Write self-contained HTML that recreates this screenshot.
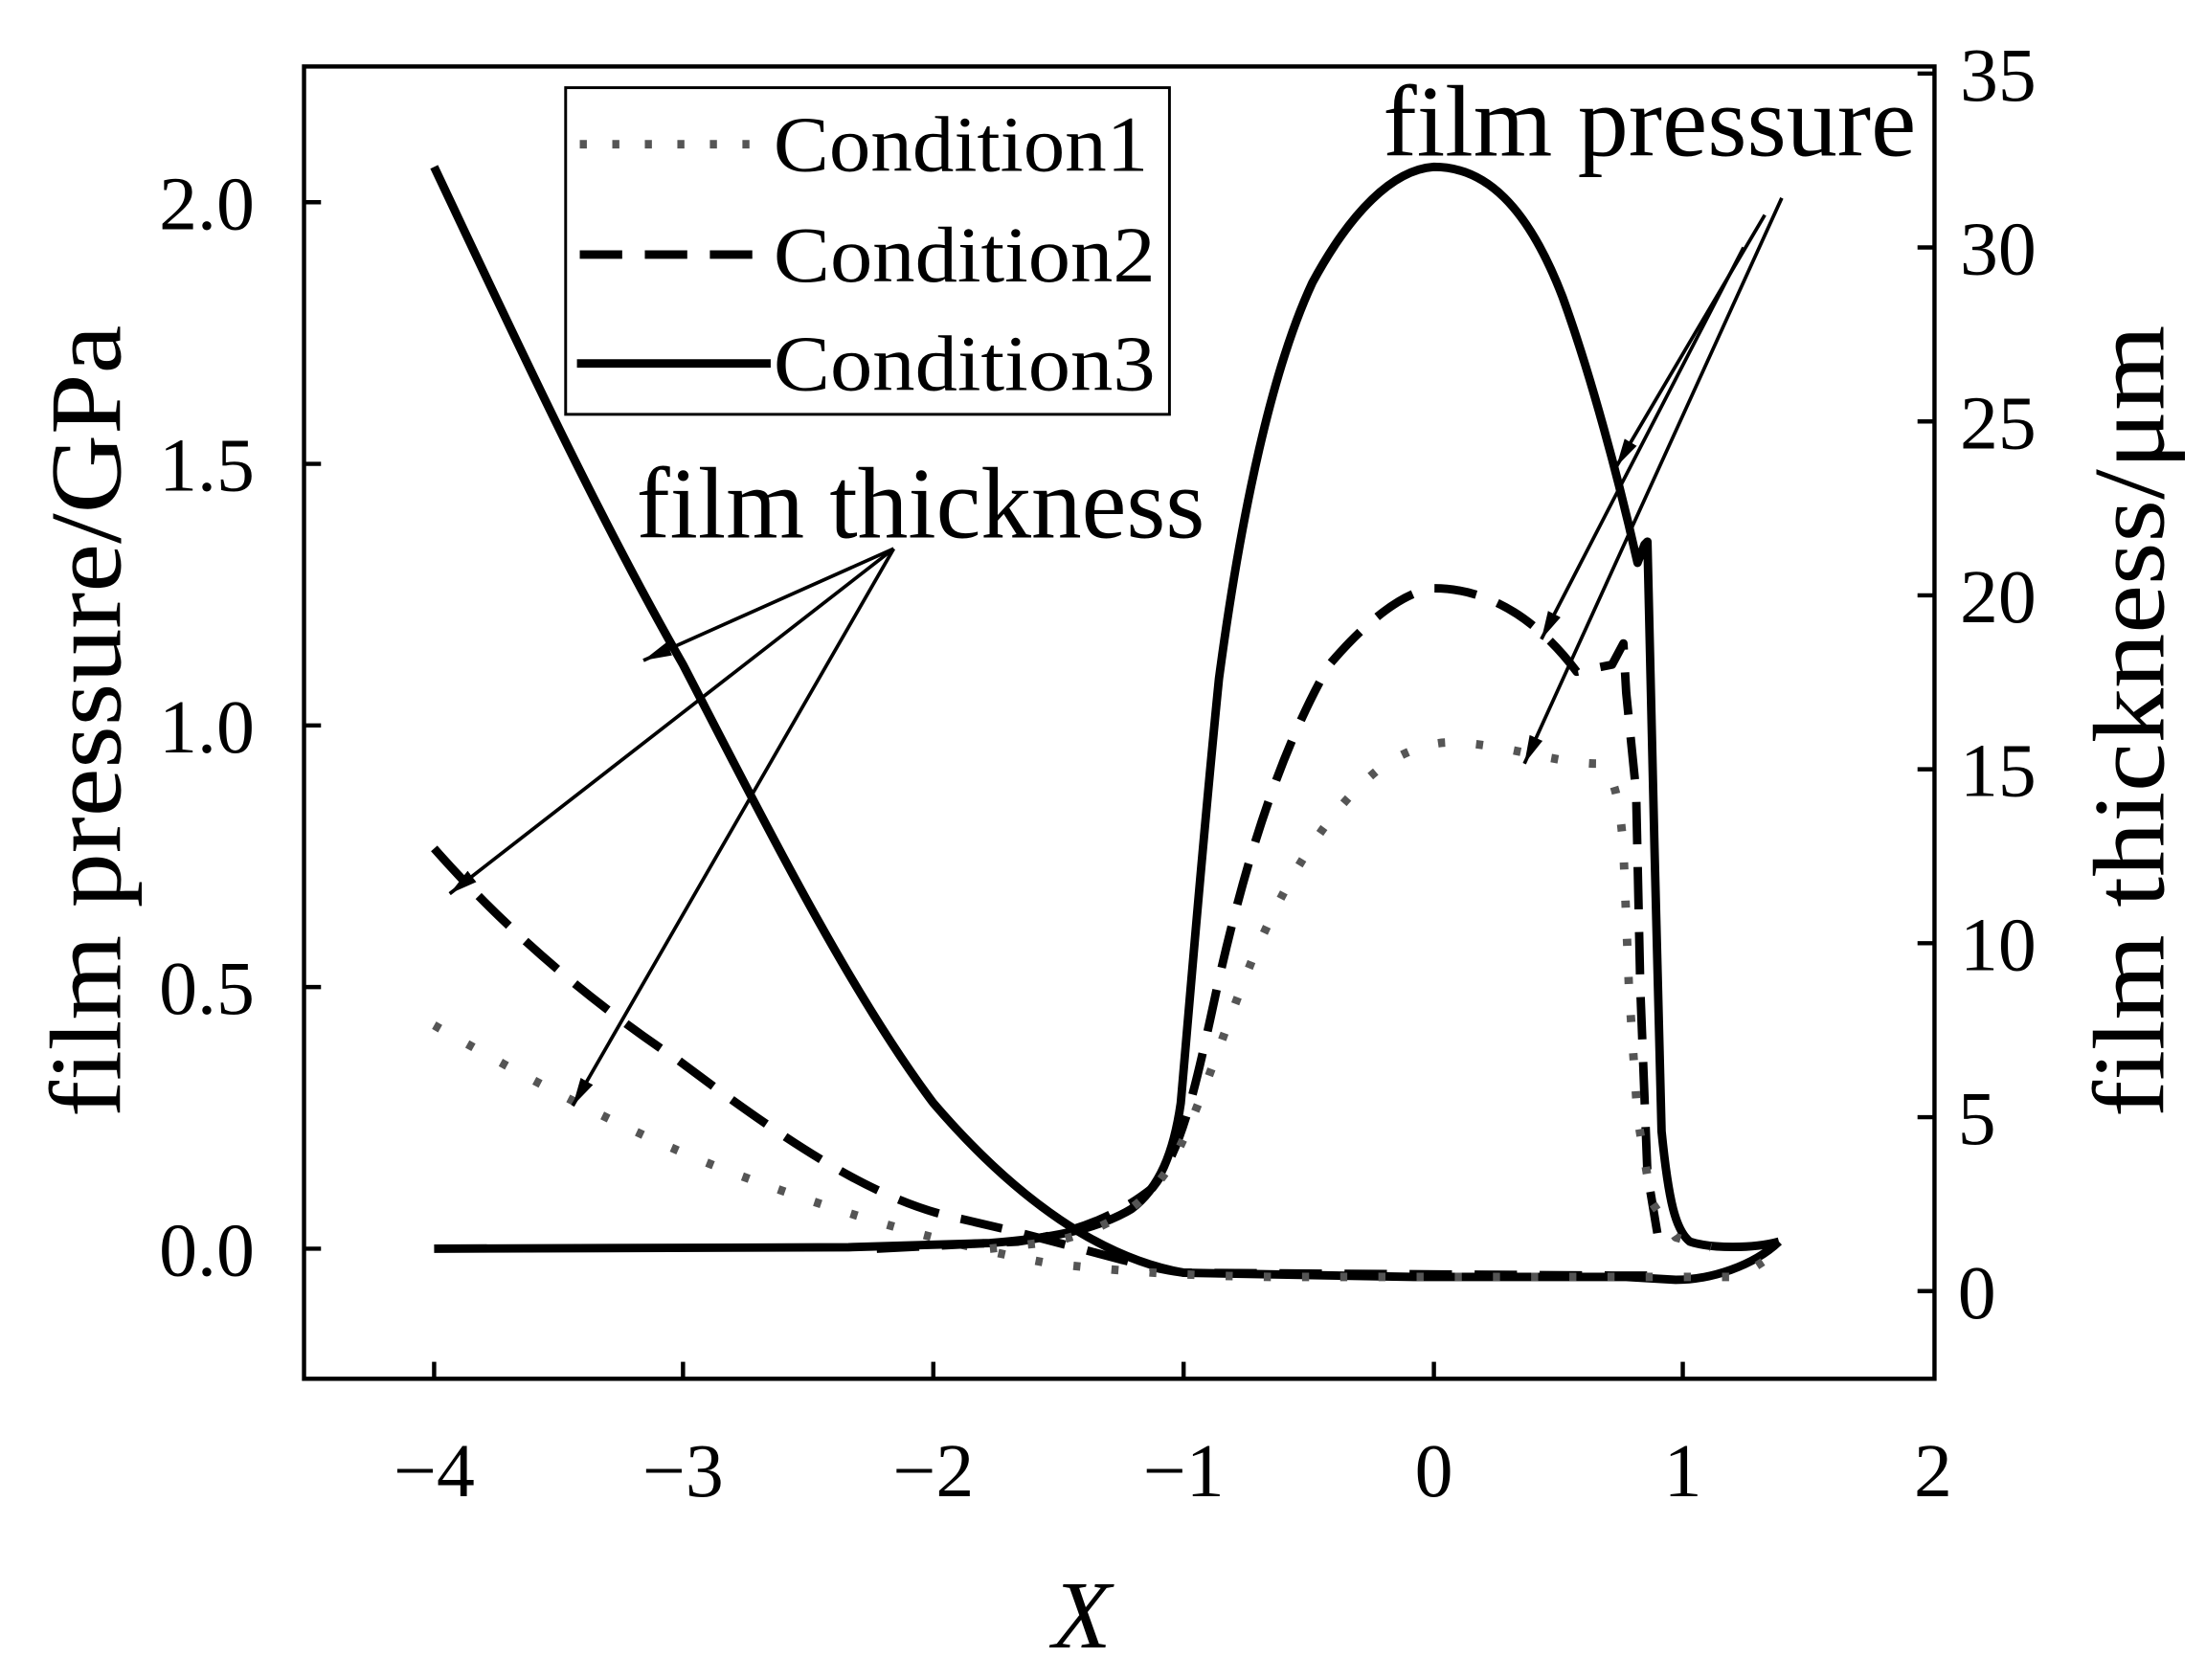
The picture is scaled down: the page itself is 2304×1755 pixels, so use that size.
<!DOCTYPE html>
<html><head><meta charset="utf-8"><style>
html,body{margin:0;padding:0;background:#fff;}
svg{display:block;}
text{font-family:"Liberation Serif",serif;fill:#000;}
</style></head><body>
<svg width="2304" height="1755" viewBox="0 0 1560 1188" preserveAspectRatio="none" xmlns="http://www.w3.org/2000/svg">
<defs>
<marker id="ah2" viewBox="0 0 20 10" refX="20" refY="5" markerWidth="20" markerHeight="10" orient="auto" markerUnits="userSpaceOnUse"><path d="M0,0 L20,5 L0,10 z" fill="#000"/></marker>
<clipPath id="c"><rect x="215" y="47" width="1153" height="928"/></clipPath>
</defs>
<rect x="215" y="47" width="1153" height="928" fill="none" stroke="#000" stroke-width="3"/>
<g stroke="#000" stroke-width="3">
<line x1="307" y1="975" x2="307" y2="963"/><line x1="483" y1="975" x2="483" y2="963"/><line x1="660" y1="975" x2="660" y2="963"/><line x1="837" y1="975" x2="837" y2="963"/><line x1="1014" y1="975" x2="1014" y2="963"/><line x1="1190" y1="975" x2="1190" y2="963"/>
<line x1="215" y1="883" x2="227" y2="883"/><line x1="215" y1="698" x2="227" y2="698"/><line x1="215" y1="513" x2="227" y2="513"/><line x1="215" y1="328" x2="227" y2="328"/><line x1="215" y1="143" x2="227" y2="143"/>
<line x1="1368" y1="913" x2="1356" y2="913"/><line x1="1368" y1="790" x2="1356" y2="790"/><line x1="1368" y1="667" x2="1356" y2="667"/><line x1="1368" y1="544" x2="1356" y2="544"/><line x1="1368" y1="421" x2="1356" y2="421"/><line x1="1368" y1="298" x2="1356" y2="298"/><line x1="1368" y1="175" x2="1356" y2="175"/><line x1="1368" y1="52" x2="1356" y2="52"/>
</g>
<g font-size="54" text-anchor="middle">
<text x="307" y="1058">−4</text><text x="483" y="1058">−3</text><text x="660" y="1058">−2</text><text x="837" y="1058">−1</text><text x="1014" y="1058">0</text><text x="1190" y="1058">1</text><text x="1367" y="1058">2</text>
</g>
<g font-size="54" text-anchor="end">
<text x="180" y="902">0.0</text><text x="180" y="717">0.5</text><text x="180" y="532">1.0</text><text x="180" y="347">1.5</text><text x="180" y="162">2.0</text>
</g>
<g font-size="54" text-anchor="middle">
<text x="1398" y="932">0</text><text x="1398" y="809">5</text><text x="1413" y="686">10</text><text x="1413" y="563">15</text><text x="1413" y="440">20</text><text x="1413" y="317">25</text><text x="1413" y="194">30</text><text x="1413" y="71">35</text>
</g>
<text x="765" y="1165" font-size="68" font-style="italic" text-anchor="middle">X</text>
<text transform="translate(85,510) rotate(-90)" font-size="72" text-anchor="middle" textLength="560" lengthAdjust="spacingAndGlyphs">film pressure/GPa</text>
<text transform="translate(1530,510) rotate(-90)" font-size="72" text-anchor="middle" textLength="560" lengthAdjust="spacingAndGlyphs">film thickness/μm</text>
<g clip-path="url(#c)" fill="none" stroke-linejoin="round">
<path d="M307,118 C360,230 420,360 483,470 C540,580 600,700 660,780 C720,850 780,890 837,900 L1000,903 L1150,903 L1185,905 C1210,905 1240,895 1258,878" stroke="#000" stroke-width="6"/>
<path d="M307,600 C360,660 420,710 480,750 C560,810 620,850 680,862 C760,880 800,895 837,900 L1140,902 L1180,902" stroke="#000" stroke-width="6" stroke-dasharray="30,16"/>
<path d="M307,725 C360,755 440,800 520,830 C600,860 670,880 740,893 C800,900 840,902 900,903 L1230,903 L1258,885" stroke="#555" stroke-width="6" stroke-dasharray="5,22"/>
<path d="M307,883 L600,882 L700,879 C740,876 775,870 800,855 C820,840 830,815 835,780 C842,700 850,600 862,480 C878,360 900,260 928,200 C955,150 985,120 1014,118 C1050,118 1080,145 1105,210 C1125,265 1145,340 1158,398 L1163,385 L1165,383 L1170,600 L1175,800 C1180,850 1185,870 1195,878 C1210,883 1240,883 1258,878" stroke="#000" stroke-width="6"/>
<path d="M620,883 L720,878 C760,872 790,860 815,840 C835,815 845,770 856,720 C875,630 900,540 940,470 C970,435 995,418 1014,416 C1050,416 1085,435 1115,475 L1140,470 L1148,455 L1150,490 L1157,560 L1160,700 L1165,830 L1172,872" stroke="#000" stroke-width="6" stroke-dasharray="30,16"/>
<path d="M700,883 L745,878 C780,870 810,855 830,820 C850,780 865,730 885,680 C910,620 940,570 980,540 C1000,528 1015,525 1025,525 C1060,525 1100,540 1130,540 C1140,545 1145,560 1148,600 L1152,700 L1158,790 L1168,850 L1185,875 L1210,882" stroke="#555" stroke-width="6" stroke-dasharray="5,22"/>
</g>
<g stroke="#000" stroke-width="2.5" fill="none">
<line x1="632" y1="388" x2="455" y2="467" marker-end="url(#ah2)"/>
<line x1="632" y1="388" x2="318" y2="632" marker-end="url(#ah2)"/>
<line x1="632" y1="388" x2="405" y2="782" marker-end="url(#ah2)"/>
<line x1="1248" y1="152" x2="1143" y2="330" marker-end="url(#ah2)"/>
<line x1="1233" y1="175" x2="1090" y2="452" marker-end="url(#ah2)"/>
<line x1="1260" y1="140" x2="1078" y2="540" marker-end="url(#ah2)"/>
</g>
<text x="450" y="380" font-size="72" textLength="402" lengthAdjust="spacingAndGlyphs">film thickness</text>
<text x="978" y="110" font-size="72" textLength="377" lengthAdjust="spacingAndGlyphs">film pressure</text>
<rect x="400" y="62" width="427" height="231" fill="#fff" stroke="#000" stroke-width="2"/>
<line x1="410" y1="102" x2="540" y2="102" stroke="#555" stroke-width="6" stroke-dasharray="5,18"/>
<line x1="410" y1="180" x2="540" y2="180" stroke="#000" stroke-width="6" stroke-dasharray="30,16"/>
<line x1="408" y1="257" x2="545" y2="257" stroke="#000" stroke-width="6"/>
<g font-size="56">
<text x="547" y="121" textLength="265" lengthAdjust="spacingAndGlyphs">Condition1</text>
<text x="547" y="199" textLength="270" lengthAdjust="spacingAndGlyphs">Condition2</text>
<text x="547" y="276" textLength="270" lengthAdjust="spacingAndGlyphs">Condition3</text>
</g>
</svg>
</body></html>
